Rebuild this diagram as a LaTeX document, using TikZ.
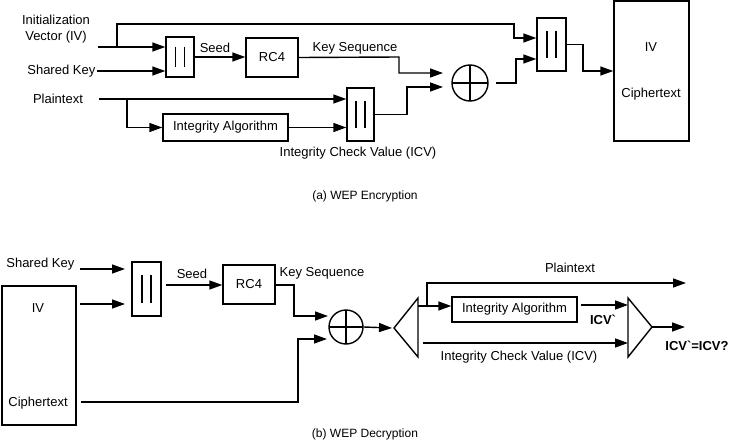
\documentclass[tikz,border=0pt]{standalone}
\usepackage{fontspec}
\setmainfont{Liberation Sans}
\usetikzlibrary{arrows.meta,calc}
\begin{document}
\begin{tikzpicture}[x=1pt, y=-1pt, line width=1.4pt,
  >={Triangle[length=13pt,width=9pt]},
  every node/.style={font=\fontsize{13}{16}\selectfont, inner sep=1pt},
  blockbox/.style={draw, inner sep=0pt},
  concat/.style={draw, inner sep=0pt},
  xorop/.style={draw, circle, inner sep=0pt, path picture={
    \draw (path picture bounding box.north) -- (path picture bounding box.south)
          (path picture bounding box.west) -- (path picture bounding box.east);}},
  caption/.style={font=\fontsize{12}{14}\selectfont}]
% bars inside a concatenation box
\providecommand{\catbars}[1]{%
  \draw ($(#1.center)!0.5!(#1.north)+(-4.5,0)$) -- ($(#1.center)!0.5!(#1.south)+(-4.5,0)$);
  \draw ($(#1.center)!0.5!(#1.north)+(4.5,0)$) -- ($(#1.center)!0.5!(#1.south)+(4.5,0)$);}
\useasboundingbox (0,0) rectangle (729,442);

% ---------------- (a) Encryption ----------------
\begin{scope}
  % Inputs
  \node[align=center] (ivtxt) at (56,29) {Initialization\\Vector (IV)};
  \coordinate (ivin) at (98,47);
  \node[anchor=east] (skey1) at (97,71) {Shared Key};
  \node (ptxt1) at (58,99) {Plaintext};
  \coordinate (ptin) at (99,99);
  % Blocks
  \node[concat, minimum width=28pt, minimum height=40pt] (cat1) at (180,57) {};
  \node[blockbox, minimum width=52pt, minimum height=39pt] (rc4a) at (272,57.5) {RC4};
  \node[blockbox, minimum width=125pt, minimum height=27pt] (ia1) at (225.5,127.5) {Integrity Algorithm};
  \node[concat, minimum width=27pt, minimum height=53pt] (cat3) at (360.5,114.5) {};
  \node[xorop, minimum size=36pt] (xor1) at (470,83) {};
  \node[concat, minimum width=29pt, minimum height=53pt] (cat2) at (551.5,44.5) {};
  \node[blockbox, minimum width=75pt, minimum height=140pt] (ct1) at (651.5,71) {};
  \node (ct1iv) at (651,47) {IV};
  \node (ct1ct) at (651,94) {Ciphertext};
  \catbars{cat1} \catbars{cat2} \catbars{cat3}
  % Labels
  \node (seed1) at (215,48) {Seed};
  \node (kseq1) at (355,48) {Key Sequence};
  \node (icv1) at (358,153) {Integrity Check Value (ICV)};
  % Connectors
  \draw[->] (ivin) -- (ivin -| cat1.west);
  \draw[->] (skey1.east) -- (skey1.east -| cat1.west);
  \draw[->] (117,47) |- (514,24) -- (514,38) -- (cat2.west |- 0,38);
  \draw[->] (cat1.east) -- (cat1.east -| rc4a.west);
  \draw[->] (rc4a.east) -- (399,57) |- (443,73);
  \draw[->] (ptin) -- (ptin -| cat3.west);
  \draw[->] (127,99) |- (ia1.west);
  \draw[->] (ia1.east) -- (ia1.east -| cat3.west);
  \draw[->] (cat3.east) -- (407,114.5) |- (443,87);
  \draw[->] (496,83) -- (516,83) |- (cat2.west |- 0,59);
  \draw[->] (cat2.east) -- (583,44.5) |- (ct1.west);
  \node[caption] (capa) at (365,196) {(a) WEP Encryption};
\end{scope}

% ---------------- (b) Decryption ----------------
\begin{scope}
  % Inputs
  \node[anchor=east] (skey2) at (76,264) {Shared Key};
  \node[blockbox, minimum width=74pt, minimum height=139pt] (ct2) at (39,355.5) {};
  \node (ct2iv) at (38,308) {IV};
  \node (ct2ct) at (38,403) {Ciphertext};
  % Blocks
  \node[concat, minimum width=29pt, minimum height=54pt] (cat4) at (146.5,289) {};
  \node[blockbox, minimum width=52pt, minimum height=39pt] (rc4b) at (249,284.5) {RC4};
  \node[xorop, minimum size=34pt] (xor2) at (346,327) {};
  \node[blockbox, minimum width=125pt, minimum height=25pt] (ia2) at (514.5,309.5) {Integrity Algorithm};
  \catbars{cat4}
  % Split and compare
  \coordinate (split) at (394,328);
  \coordinate (splitt) at (418,298);
  \coordinate (splitb) at (418,357);
  \draw (split) -- (splitt) -- (splitb) -- cycle;
  \coordinate (cmp) at (652,327);
  \coordinate (cmpt) at (628,298);
  \coordinate (cmpb) at (628,357);
  \draw (cmp) -- (cmpt) -- (cmpb) -- cycle;
  % Labels
  \node (seed2) at (192,274) {Seed};
  \node (kseq2) at (322,273) {Key Sequence};
  \node (ptxt2) at (570,268) {Plaintext};
  \node[font=\fontsize{13}{16}\selectfont\bfseries] (icvp) at (603,320) {ICV\textasciigrave};
  \node[font=\fontsize{13}{16}\selectfont\bfseries] (icveq) at (697,346) {ICV\textasciigrave=ICV?};
  \node (icv2) at (519,357) {Integrity Check Value (ICV)};
  % Connectors
  \draw[->] (80,269) -- (125,269);
  \draw[->] (80,304) -- (125,304);
  \draw[->] (166,285) -- (rc4b.west |- 0,285);
  \draw[->] (rc4b.east |- 0,285) -- (294,285) |- (328,316);
  \draw[->] (81,402) -- (298,402) |- (327,339);
  \draw[->] (xor2.east) -- (392,328);
  \draw[->] (418,306) -- (ia2.west |- 0,306);
  \draw[->] (427,306) |- (686,283);
  \draw[->] (581,305) -- (cmpt |- 0,305);
  \draw[->] (423,343) -- (cmpt |- 0,343);
  \draw[->] (cmp) -- (685,327);
  \node[caption] (capb) at (365,434) {(b) WEP Decryption};
\end{scope}
\end{tikzpicture}
\end{document}
